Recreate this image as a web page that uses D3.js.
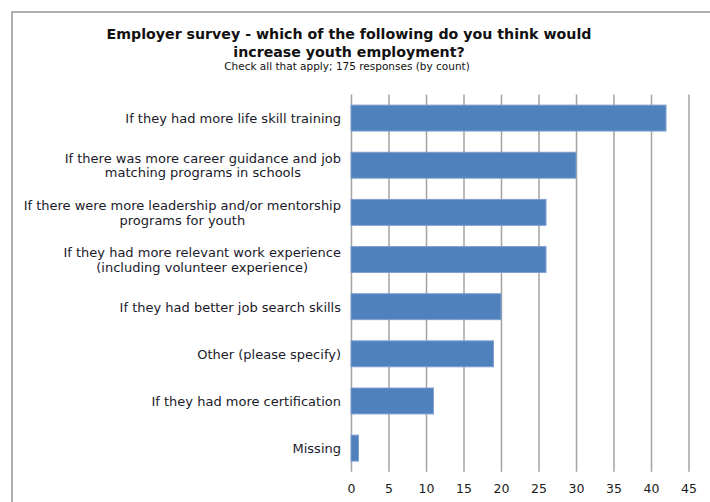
<!DOCTYPE html>
<html>
<head>
<meta charset="utf-8">
<script src="https://cdn.jsdelivr.net/npm/d3@7/dist/d3.min.js"></script>
<style>
  html, body { margin: 0; padding: 0; background: #fff; }
  svg { display: block; }
</style>
</head>
<body>
<div id="chart"></div>
<script>
// Survey answers (by count), top to bottom
const categories = [
  ["If they had more life skill training"],
  ["If there was more career guidance and job", "matching programs in schools"],
  ["If there were more leadership and/or mentorship", "programs for youth"],
  ["If they had more relevant work experience", "(including volunteer experience)"],
  ["If they had better job search skills"],
  ["Other (please specify)"],
  ["If they had more certification"],
  ["Missing"]
];
const counts = [42, 30, 26, 26, 20, 19, 11, 1];
const xTicks = [0, 5, 10, 15, 20, 25, 30, 35, 40, 45];

const titleLines = [
  "Employer survey - which of the following do you think would",
  "increase youth employment?"
];
const subtitle = "Check all that apply; 175 responses (by count)";

const W = 710, H = 502;
const plot = { left: 351, right: 688.5, top: 94.5, bottom: 471.7 };
const font = "'DejaVu Sans', Verdana, sans-serif";

const svg = d3.select("#chart").append("svg")
  .attr("width", W).attr("height", H);

// outer frame of the chart area
svg.append("rect")
  .attr("x", 12).attr("y", 12)
  .attr("width", W + 20).attr("height", H + 20)
  .attr("fill", "#fff")
  .attr("stroke", "#b0b0b0").attr("stroke-width", 2);

const x = d3.scaleLinear().domain([0, 45]).range([plot.left, plot.right]);
const y = d3.scaleBand()
  .domain(d3.range(categories.length))
  .range([plot.top, plot.bottom])
  .paddingInner(0.45).paddingOuter(0.225);

// vertical gridlines + tick labels via axis
const axis = d3.axisBottom(x).tickValues(xTicks).tickSize(-(plot.bottom - plot.top)).tickPadding(12);
const gAxis = svg.append("g")
  .attr("transform", `translate(0,${plot.bottom})`)
  .call(axis);
gAxis.select(".domain").remove();
gAxis.selectAll(".tick line").attr("stroke", "#a3a3a3").attr("stroke-width", 1.5);
gAxis.selectAll(".tick text")
  .attr("font-family", font).attr("font-size", 12.5).attr("fill", "#1a1a1a");

// bars
svg.append("g").selectAll("rect")
  .data(counts)
  .join("rect")
  .attr("x", x(0))
  .attr("y", (d, i) => y(i))
  .attr("width", d => x(d) - x(0))
  .attr("height", y.bandwidth())
  .attr("fill", "#4f81bd")
  .attr("stroke", "#7ea0cf")
  .attr("stroke-width", 1);

// category labels, multi-line centred on each other, right edge near axis
const lineH = 14.5;
const labels = svg.append("g").selectAll("text")
  .data(categories)
  .join("text")
  .attr("font-family", font)
  .attr("font-size", 13)
  .attr("fill", "#1a1a2a");

labels.each(function(lines, i) {
  const t = d3.select(this);
  const cy = y(i) + y.bandwidth() / 2;
  const firstBase = cy + 5 - (lines.length - 1) * lineH / 2;
  lines.forEach((ln, k) => {
    t.append("tspan").attr("y", firstBase + k * lineH).text(ln);
  });
});
// position: right edge of widest line at 341, lines centred on one another
labels.each(function() {
  const t = d3.select(this);
  const spans = t.selectAll("tspan");
  let maxW = 0;
  spans.each(function() { maxW = Math.max(maxW, this.getComputedTextLength()); });
  const center = 341 - maxW / 2;
  spans.attr("x", center).attr("text-anchor", "middle");
});

// title
const title = svg.append("text")
  .attr("font-family", font)
  .attr("font-weight", "bold")
  .attr("font-size", 14.2)
  .attr("fill", "#111")
  .attr("text-anchor", "middle");
titleLines.forEach((ln, k) => {
  title.append("tspan").attr("x", 349).attr("y", 39 + k * 17.5).text(ln);
});
svg.append("text")
  .attr("x", 347).attr("y", 70)
  .attr("text-anchor", "middle")
  .attr("font-family", font)
  .attr("font-size", 10.5)
  .attr("fill", "#111")
  .text(subtitle);
</script>
</body>
</html>
